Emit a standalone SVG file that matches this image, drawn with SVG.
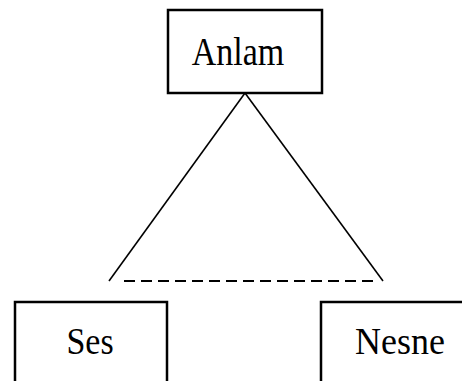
<svg xmlns="http://www.w3.org/2000/svg" width="462" height="381" viewBox="0 0 462 381">
<style>
.box{fill:#fff;stroke:#000;stroke-width:2.5}
.lbl{font-family:"Liberation Serif","Times New Roman",serif;font-size:34px;fill:#000;text-anchor:middle}
.edge{stroke:#000;stroke-width:1.6;fill:none}
.dash{stroke:#000;stroke-width:2;stroke-dasharray:11 6;fill:none}
</style>
<rect width="462" height="381" fill="#fff"/>
<g id="connectors">
<line class="edge" x1="245" y1="93" x2="109" y2="281"/>
<line class="edge" x1="245" y1="93" x2="383" y2="281"/>
<line class="dash" x1="124" y1="281" x2="377" y2="281"/>
</g>
<g id="anlam">
<rect class="box" x="168" y="10" width="154" height="83"/>
<text class="lbl" transform="translate(238,64.5) scale(1,1.2)">Anlam</text>
</g>
<g id="ses">
<rect class="box" x="15" y="302" width="152" height="90"/>
<text class="lbl" transform="translate(90,353.5) scale(1,1.12)">Ses</text>
</g>
<g id="nesne">
<rect class="box" x="321" y="302" width="160" height="90"/>
<text class="lbl" style="font-size:36px" transform="translate(400,353.5) scale(1,1.06)">Nesne</text>
</g>
</svg>
